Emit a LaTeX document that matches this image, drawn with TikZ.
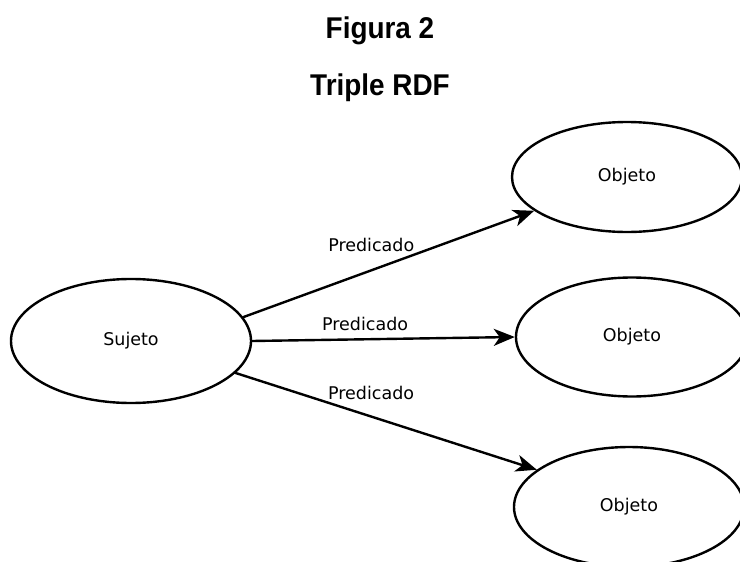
\documentclass[tikz,border=0pt]{standalone}
\usepackage{fontspec}
\setmainfont{DejaVu Sans}
\newfontfamily\titulo[FakeStretch=0.93]{Liberation Sans}
\usetikzlibrary{shapes.geometric,arrows.meta}
\begin{document}
\begin{tikzpicture}[x=1pt,y=-1pt,line join=round,line cap=round,
	font=\fontsize{17.5}{21}\selectfont,
	elipse/.style={draw,ellipse,line width=2.4pt,inner sep=0pt},
	titulos/.style={font=\titulo\bfseries\fontsize{30}{36}\selectfont,anchor=base},
	flecha/.style={line width=2.4pt,-{Stealth[length=21pt,width=17pt,inset=6pt]}}]
	\useasboundingbox (0,0) rectangle (740,562);
	\node[titulos] (fig) at (380,38) {Figura 2};
	\node[titulos] (tit) at (380,95) {Triple RDF};
	\node[elipse,minimum width=240pt,minimum height=124pt] (suj) at (131,341) {Sujeto};
	\node[elipse,minimum width=230pt,minimum height=110pt] (obja) at (627,177) {Objeto};
	\node[elipse,minimum width=232pt,minimum height=119pt] (objb) at (632,337) {Objeto};
	\node[elipse,minimum width=230pt,minimum height=120pt] (objc) at (629,507) {Objeto};
	\foreach \a/\o/\b/\p/\d in {12.6/obja/200/.44/14pt,0/objb/180/.43/4pt,-17/objc/158/.45/12pt}
	\draw[flecha] (suj.\a) -- node[above=\d,pos=\p] {Predicado} (\o.\b);
\end{tikzpicture}
\end{document}
